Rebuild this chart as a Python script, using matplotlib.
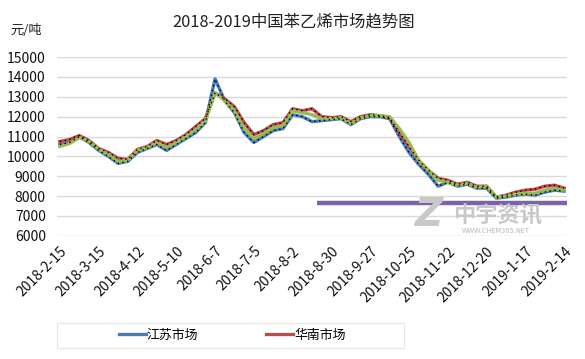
import numpy as np
import pandas as pd
import matplotlib
matplotlib.use('Agg')
import matplotlib.pyplot as plt
from matplotlib.patches import Rectangle

plt.rcParams['font.family'] = ['Noto Sans CJK SC', 'DejaVu Sans']

# weekly prices, 2018-2-15 .. 2019-2-14 (yuan/t)
dates = pd.date_range('2018-02-15', '2019-02-14', freq='7D')
jiangsu = [10600, 10700, 11000, 10700, 10300, 10000, 9650, 9750, 10200, 10400,
           10600, 10300, 10600, 10900, 11200, 11700, 13900, 12800, 12200, 11200,
           10700, 11000, 11300, 11400, 12100, 12000, 11750, 11800, 11850, 11900,
           11600, 11900, 12000, 12000, 11900, 11000, 10200, 9600, 9100, 8500,
           8700, 8500, 8600, 8400, 8400, 7900, 7950, 8050, 8100, 8050,
           8200, 8300, 8250]
huanan = [10750, 10850, 11050, 10800, 10400, 10200, 9900, 9850, 10350, 10500,
          10800, 10600, 10800, 11100, 11500, 11900, 13200, 12900, 12500, 11700,
          11100, 11300, 11600, 11700, 12400, 12300, 12400, 12000, 11950, 12000,
          11750, 12000, 12100, 12050, 11950, 11200, 10500, 9800, 9300, 8900,
          8800, 8600, 8700, 8500, 8500, 7950, 8050, 8200, 8300, 8350,
          8500, 8550, 8400]
other = [10500, 10650, 10950, 10750, 10350, 10100, 9750, 9800, 10300, 10450,
         10700, 10450, 10700, 11000, 11350, 11800, 13200, 12800, 12300, 11400,
         10900, 11150, 11450, 11550, 12300, 12200, 12100, 11900, 11900, 11950,
         11650, 11950, 12050, 12050, 12000, 11400, 10700, 9800, 9300, 8800,
         8700, 8550, 8650, 8450, 8500, 7950, 8000, 8100, 8150, 8150,
         8300, 8400, 8300]
tick_labels = ['2018-2-15', '2018-3-15', '2018-4-12', '2018-5-10', '2018-6-7',
               '2018-7-5', '2018-8-2', '2018-8-30', '2018-9-27', '2018-10-25',
               '2018-11-22', '2018-12-20', '2019-1-17', '2019-2-14']
support_level = 7650
support_span = [26.5, 52.4]

x = np.arange(len(dates))

fig = plt.figure(figsize=(5.85, 3.59), dpi=100)
ax = fig.add_axes([0.0974, 0.343, 0.872, 0.498])

ax.plot(x, jiangsu, color='#4a7ebb', lw=2.4, zorder=3, label='江苏市场')
ax.plot(x, huanan, color='#be4b48', lw=2.4, zorder=4, label='华南市场')
ax.plot(x, other, color='#98b954', lw=2.4, zorder=5)
ax.plot(x, jiangsu, color='black', lw=1.0, ls=(0, (1, 2.5)), zorder=6)
ax.plot(x, huanan, color='black', lw=1.0, ls=(0, (1, 2.5)), zorder=6)

# purple mark line
ax.plot(support_span, [support_level, support_level], color='#7e62a8',
        lw=3.2, solid_capstyle='butt', zorder=7)

ax.set_ylim(6000, 15000)
ax.set_xlim(-0.3, 52.3)
ax.set_yticks(np.arange(6000, 15001, 1000))
ax.yaxis.grid(True, color='#d9d9d9', lw=1)
ax.set_axisbelow(True)
for s in ax.spines.values():
    s.set_visible(False)
ax.tick_params(axis='both', length=0, labelsize=10, colors='#111111')
ax.tick_params(axis='y', pad=8)
ax.set_xticks(x[::4])
ax.set_xticklabels(tick_labels, rotation=45, ha='right', rotation_mode='anchor')
ax.tick_params(axis='x', pad=6)

# watermark
fig.text(0.71, 0.37, 'Z', fontsize=28, color='#c8c8c8', fontweight='bold',
         style='italic', family='DejaVu Sans', zorder=0)
fig.text(0.775, 0.38, '中宇资讯', fontsize=16, color='#c8c8c8', fontweight='bold')
fig.text(0.79, 0.352, 'WWW.CHEM365.NET', fontsize=4.8, color='#b8b8b8',
         family='DejaVu Sans')

fig.text(0.502, 0.94, '2018-2019中国苯乙烯市场趋势图', fontsize=11.8,
         ha='center', va='center', color='#222222')
fig.text(0.017, 0.915, '元/吨', fontsize=9.5, va='center', color='#222222')

# legend box
fig.patches.append(Rectangle((57 / 585, 1 - 348 / 359), 347 / 585, 25 / 359,
                             transform=fig.transFigure, facecolor='white',
                             edgecolor='#e6e6e6', lw=0.8))
fig.legend(*ax.get_legend_handles_labels(), loc='center',
           bbox_to_anchor=(232 / 585, 1 - 335.5 / 359), ncol=2, fontsize=9.3,
           frameon=False, handlelength=2.1, handletextpad=0.1,
           columnspacing=5.2)

fig.savefig('out.png', dpi=100)
